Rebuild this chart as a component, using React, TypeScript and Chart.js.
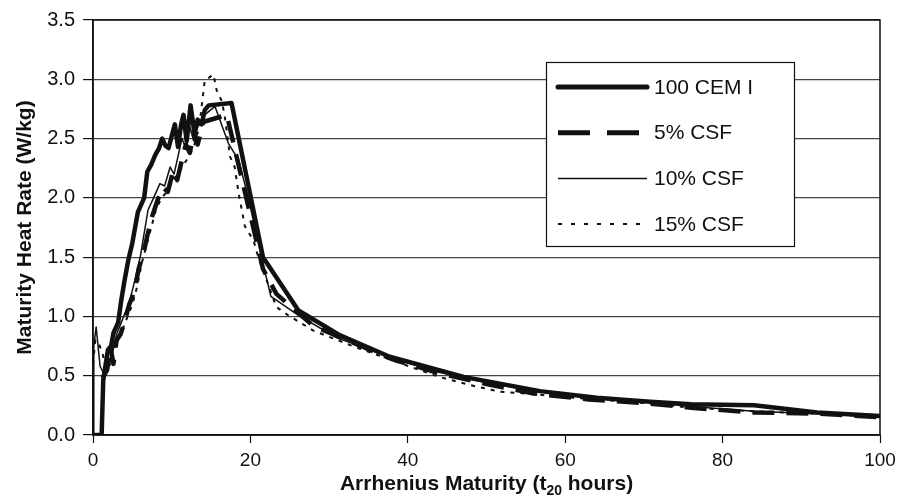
import React, { useEffect, useRef } from "react";
import { Chart, registerables } from "chart.js";

Chart.register(...registerables);

const FONT = "'Liberation Sans', Arial, Helvetica, sans-serif";

const seriesNames = ["100 CEM I", "5% CSF", "10% CSF", "15% CSF"];
const xTickValues = [0, 20, 40, 60, 80, 100];
const yTickValues = [0, 0.5, 1.0, 1.5, 2.0, 2.5, 3.0, 3.5];
const yAxisTitle = "Maturity Heat Rate (W/kg)";
const xAxisTitleParts = ["Arrhenius Maturity (t", "20", " hours)"];

// 100 CEM I
const cemX = [0, 1.1, 1.3, 1.9, 2.3, 2.6, 3.2, 3.6, 4.0, 4.5, 5.0, 5.7, 6.5, 6.9, 7.4, 7.9, 8.4, 8.8, 9.2, 9.6, 10.0, 10.4, 10.8, 11.2, 11.5, 11.9, 12.4, 12.9, 13.3, 13.8, 14.2, 14.7, 17.6, 21.6, 26.1, 31.4, 37.7, 47.1, 56.8, 64, 70.8, 76, 84, 92, 100];
const cemY = [0, 0, 0.46, 0.72, 0.75, 0.86, 0.95, 1.14, 1.3, 1.48, 1.62, 1.88, 2.0, 2.22, 2.28, 2.36, 2.42, 2.5, 2.44, 2.42, 2.52, 2.62, 2.43, 2.62, 2.7, 2.48, 2.78, 2.54, 2.66, 2.62, 2.74, 2.78, 2.8, 1.5, 1.05, 0.84, 0.66, 0.49, 0.37, 0.315, 0.28, 0.26, 0.25, 0.19, 0.16];

// 5% CSF
const csf5X = [1.2, 1.8, 2.2, 2.6, 3.0, 3.5, 4.0, 4.6, 5.3, 5.8, 6.4, 6.9, 7.5, 8.2, 8.9, 9.5, 10.2, 10.7, 11.3, 11.8, 12.3, 12.8, 13.3, 14.0, 17.0, 21.6, 23.3, 28, 33, 38, 44, 50, 56, 63, 70, 76, 84, 92, 100];
const csf5Y = [0.48, 0.55, 0.75, 0.6, 0.8, 0.85, 0.95, 1.1, 1.22, 1.4, 1.53, 1.68, 1.84, 1.98, 2.09, 2.05, 2.23, 2.15, 2.32, 2.45, 2.38, 2.55, 2.45, 2.64, 2.7, 1.4, 1.19, 0.92, 0.78, 0.64, 0.52, 0.43, 0.35, 0.3, 0.27, 0.23, 0.19, 0.18, 0.15];

// 10% CSF
const csf10X = [0, 0.1, 0.4, 0.9, 1.5, 2.0, 2.5, 3.0, 3.6, 4.2, 4.7, 5.3, 6.0, 6.5, 7.0, 7.7, 8.5, 9.1, 9.8, 10.3, 10.8, 11.3, 11.8, 12.3, 12.8, 13.4, 14.2, 15.1, 15.5, 17.2, 18.5, 19.7, 21.4, 22.6, 26.3, 31, 38, 44, 50, 56, 64, 70, 76, 84, 92, 100];
const csf10Y = [0, 0.75, 0.91, 0.58, 0.5, 0.58, 0.7, 0.85, 0.95, 1.05, 1.14, 1.3, 1.5, 1.7, 1.9, 2.0, 2.12, 2.1, 2.26, 2.2, 2.35, 2.5, 2.42, 2.6, 2.48, 2.62, 2.7, 2.75, 2.77, 2.46, 2.32, 2.01, 1.5, 1.17, 1.0, 0.82, 0.65, 0.53, 0.44, 0.37, 0.31, 0.28, 0.24, 0.2, 0.18, 0.16];

// 15% CSF
const csf15X = [0, 0.3, 0.7, 1.2, 1.7, 2.2, 2.7, 3.2, 3.8, 4.4, 5.0, 5.6, 6.2, 6.8, 7.4, 8.0, 8.7, 9.4, 10.1, 10.8, 11.5, 12.3, 12.9, 13.5, 14.0, 14.2, 15.3, 15.7, 16.4, 16.8, 17.4, 18.0, 18.5, 19.3, 20.4, 21.0, 23.3, 24.8, 28, 33, 38, 44, 48, 51.7, 55, 60, 64, 70, 76, 84, 92, 100];
const csf15Y = [0.6, 0.8, 0.78, 0.69, 0.55, 0.6, 0.72, 0.8, 0.9, 1.0, 1.1, 1.25, 1.45, 1.6, 1.75, 1.9, 2.0, 2.05, 2.15, 2.2, 2.28, 2.36, 2.45, 2.6, 2.88, 2.99, 3.04, 2.91, 2.81, 2.66, 2.35, 2.26, 2.04, 1.76, 1.64, 1.5, 1.08, 1.01, 0.88, 0.75, 0.63, 0.49, 0.42, 0.365, 0.35, 0.32, 0.3, 0.27, 0.23, 0.2, 0.18, 0.155];

const seriesX = [cemX, csf5X, csf10X, csf15X];
const seriesY = [cemY, csf5Y, csf10Y, csf15Y];

const seriesStyles = [
  { width: 4.5, dash: [] as number[], legendWidth: 5, legendDash: [] as number[], cap: "round" as CanvasLineCap },
  { width: 4.5, dash: [22, 12], legendWidth: 5, legendDash: [32, 17], cap: "butt" as CanvasLineCap },
  { width: 1.5, dash: [] as number[], legendWidth: 1.5, legendDash: [] as number[], cap: "butt" as CanvasLineCap },
  { width: 2, dash: [4, 6], legendWidth: 2, legendDash: [4, 9], cap: "butt" as CanvasLineCap },
];

const legendPlugin = {
  id: "boxLegend",
  afterDatasetsDraw(chart: any) {
    const { ctx } = chart;
    ctx.save();
    const bx = 546, by = 62, bw = 248, bh = 184;
    ctx.fillStyle = "#fff";
    ctx.fillRect(bx, by, bw, bh);
    ctx.strokeStyle = "#111";
    ctx.lineWidth = 1.2;
    ctx.strokeRect(bx + 0.5, by + 0.5, bw, bh);
    seriesNames.forEach((name, i) => {
      const y = 87 + i * 45.7;
      const s = seriesStyles[i];
      ctx.beginPath();
      ctx.setLineDash(s.legendDash);
      ctx.lineWidth = s.legendWidth;
      ctx.lineCap = s.cap;
      ctx.strokeStyle = "#111";
      ctx.moveTo(558, y);
      ctx.lineTo(647, y);
      ctx.stroke();
      ctx.setLineDash([]);
      ctx.fillStyle = "#111";
      ctx.font = `21px ${FONT}`;
      ctx.textBaseline = "middle";
      ctx.textAlign = "left";
      ctx.fillText(name, 654, y + 1);
    });
    ctx.restore();
  },
};

const framePlugin = {
  id: "frame",
  afterDraw(chart: any) {
    const { ctx, chartArea } = chart;
    ctx.save();
    ctx.strokeStyle = "#111";
    ctx.lineWidth = 1.5;
    ctx.strokeRect(chartArea.left, chartArea.top, chartArea.right - chartArea.left, chartArea.bottom - chartArea.top);
    // x axis title with subscript
    const cx = (chartArea.left + chartArea.right) / 2;
    ctx.fillStyle = "#111";
    ctx.textBaseline = "alphabetic";
    ctx.textAlign = "left";
    const mainFont = `bold 21px ${FONT}`;
    const subFont = `bold 14px ${FONT}`;
    ctx.font = mainFont;
    const w1 = ctx.measureText(xAxisTitleParts[0]).width;
    const w3 = ctx.measureText(xAxisTitleParts[2]).width;
    ctx.font = subFont;
    const w2 = ctx.measureText(xAxisTitleParts[1]).width;
    let x = cx - (w1 + w2 + w3) / 2;
    const base = chartArea.bottom + 55;
    ctx.font = mainFont;
    ctx.fillText(xAxisTitleParts[0], x, base);
    x += w1;
    ctx.font = subFont;
    ctx.fillText(xAxisTitleParts[1], x, base + 5);
    x += w2;
    ctx.font = mainFont;
    ctx.fillText(xAxisTitleParts[2], x, base);
    ctx.restore();
  },
};

export default function App() {
  const ref = useRef<HTMLCanvasElement | null>(null);
  useEffect(() => {
    if (!ref.current) return;
    const datasets = seriesNames.map((name, i) => ({
      label: name,
      data: seriesX[i].map((xv, j) => ({ x: xv, y: seriesY[i][j] })),
      borderColor: "#111",
      backgroundColor: "#111",
      borderWidth: seriesStyles[i].width,
      borderDash: seriesStyles[i].dash,
      borderJoinStyle: "round" as const,
      pointRadius: 0,
      tension: 0,
      fill: false,
      order: 4 - i,
    }));
    const chart = new Chart(ref.current, {
      type: "line",
      data: { datasets },
      options: {
        animation: false,
        responsive: false,
        devicePixelRatio: 1,
        layout: { padding: { top: 20, right: 27, left: 0, bottom: 0 } },
        plugins: { legend: { display: false }, tooltip: { enabled: false } },
        scales: {
          x: {
            type: "linear",
            min: 0,
            max: 100,
            afterBuildTicks: (s: any) => {
              s.ticks = xTickValues.map((v) => ({ value: v }));
            },
            afterFit: (s: any) => {
              s.height = 67;
            },
            ticks: {
              color: "#111",
              font: { family: FONT, size: 19 },
              padding: 6,
              maxRotation: 0,
              autoSkip: false,
            },
            grid: { drawOnChartArea: false, drawTicks: true, tickLength: 8, tickColor: "#111", tickWidth: 1.2 },
            border: { color: "#111", width: 1.5 },
          },
          y: {
            type: "linear",
            min: 0,
            max: 3.5,
            afterBuildTicks: (s: any) => {
              s.ticks = yTickValues.map((v) => ({ value: v }));
            },
            afterFit: (s: any) => {
              s.width = 93;
            },
            ticks: {
              color: "#111",
              font: { family: FONT, size: 20 },
              padding: 8,
              callback: (v: any) => Number(v).toFixed(1),
            },
            grid: { color: "#444", lineWidth: 1.2, tickLength: 10, tickColor: "#111", tickWidth: 1.2 },
            border: { color: "#111", width: 1.5 },
            title: {
              display: true,
              text: yAxisTitle,
              color: "#111",
              font: { family: FONT, size: 21, weight: "bold" },
              padding: { top: 13, bottom: 0 },
            },
          },
        },
      },
      plugins: [legendPlugin, framePlugin],
    });
    return () => chart.destroy();
  }, []);
  return (
    <div style={{ position: "absolute", left: 0, top: 0, width: 907, height: 502, background: "#fff" }}>
      <canvas ref={ref} width={907} height={502} style={{ width: 907, height: 502 }} />
    </div>
  );
}
